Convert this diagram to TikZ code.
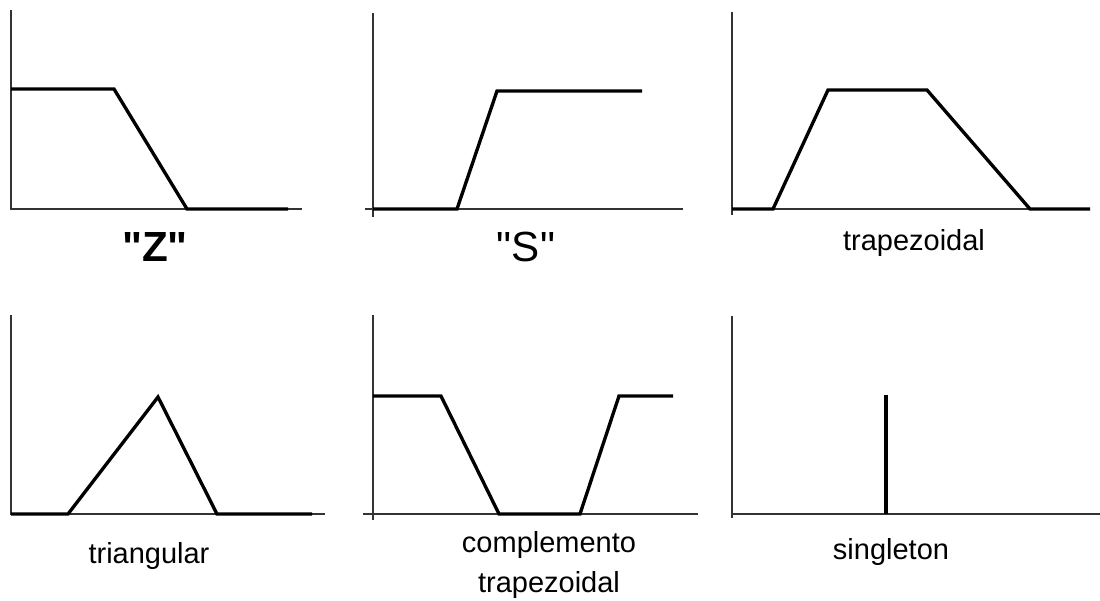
\documentclass[tikz,border=0pt]{standalone}
\usepackage{fontspec}
\setmainfont{Liberation Sans}[Ligatures=TeXOff]

\newcommand*{\wmax}{1100}
\newcommand*{\hmax}{600}
\newcommand*{\topbase}{209}
\newcommand*{\lowbase}{514}

\begin{document}
\begin{tikzpicture}
[
	x=0.02cm, y=-0.02cm,
	axis/.style={line width=1.1pt,black!80},
	curve/.style={line width=1.9pt,black},
	lbl/.style={font=\fontsize{16.5}{22.7}\selectfont,align=center},
	biglbl/.style={font=\fontsize{24}{28}\selectfont}
]

	\useasboundingbox (0,0) rectangle (\wmax,\hmax);

	% axes, top row
	\draw[axis] (11,10) -- (11,\topbase) -- (302,\topbase);
	\draw[axis] (373,13) -- (373,217);
	\draw[axis] (365,\topbase) -- (683,\topbase);
	\draw[axis] (732,12) -- (732,215);
	\draw[axis] (732,\topbase) -- (1090,\topbase);

	% axes, bottom row
	\draw[axis] (11,315) -- (11,\lowbase) -- (325,\lowbase);
	\draw[axis] (373,315) -- (373,520);
	\draw[axis] (363,\lowbase) -- (698,\lowbase);
	\draw[axis] (732,316) -- (732,518);
	\draw[axis] (732,\lowbase) -- (1100,\lowbase);

	% membership functions
	\draw[curve] (11,89) -- (114,89) -- (187,\topbase) -- (288,\topbase);
	\draw[curve] (373,\topbase) -- (457,\topbase) -- (497,91) -- (642,91);
	\draw[curve] (732,\topbase) -- (773,\topbase) -- (828,90) -- (927,90)
	  -- (1030,\topbase) -- (1090,\topbase);
	\draw[curve] (11,\lowbase) -- (68,\lowbase) -- (158,397) -- (217,\lowbase)
	  -- (312,\lowbase);
	\draw[curve] (373,396) -- (441,396) -- (499,\lowbase) -- (580,\lowbase)
	  -- (619,396) -- (673,396);
	\draw[curve] (886,\lowbase) -- (886,395);

	% labels
	\node[biglbl,font=\fontsize{24}{28}\selectfont\bfseries] (zlbl) at (155,247) {"Z"};
	\node[biglbl] (slbl) at (526,247) {"S"};
	\node[lbl] (trplbl) at (914,243) {trapezoidal};
	\node[lbl] (trilbl) at (149,556) {triangular};
	\node[lbl] (complbl) at (549,565) {complemento\\trapezoidal};
	\node[lbl] (sgllbl) at (891,552) {singleton};

\end{tikzpicture}
\end{document}
